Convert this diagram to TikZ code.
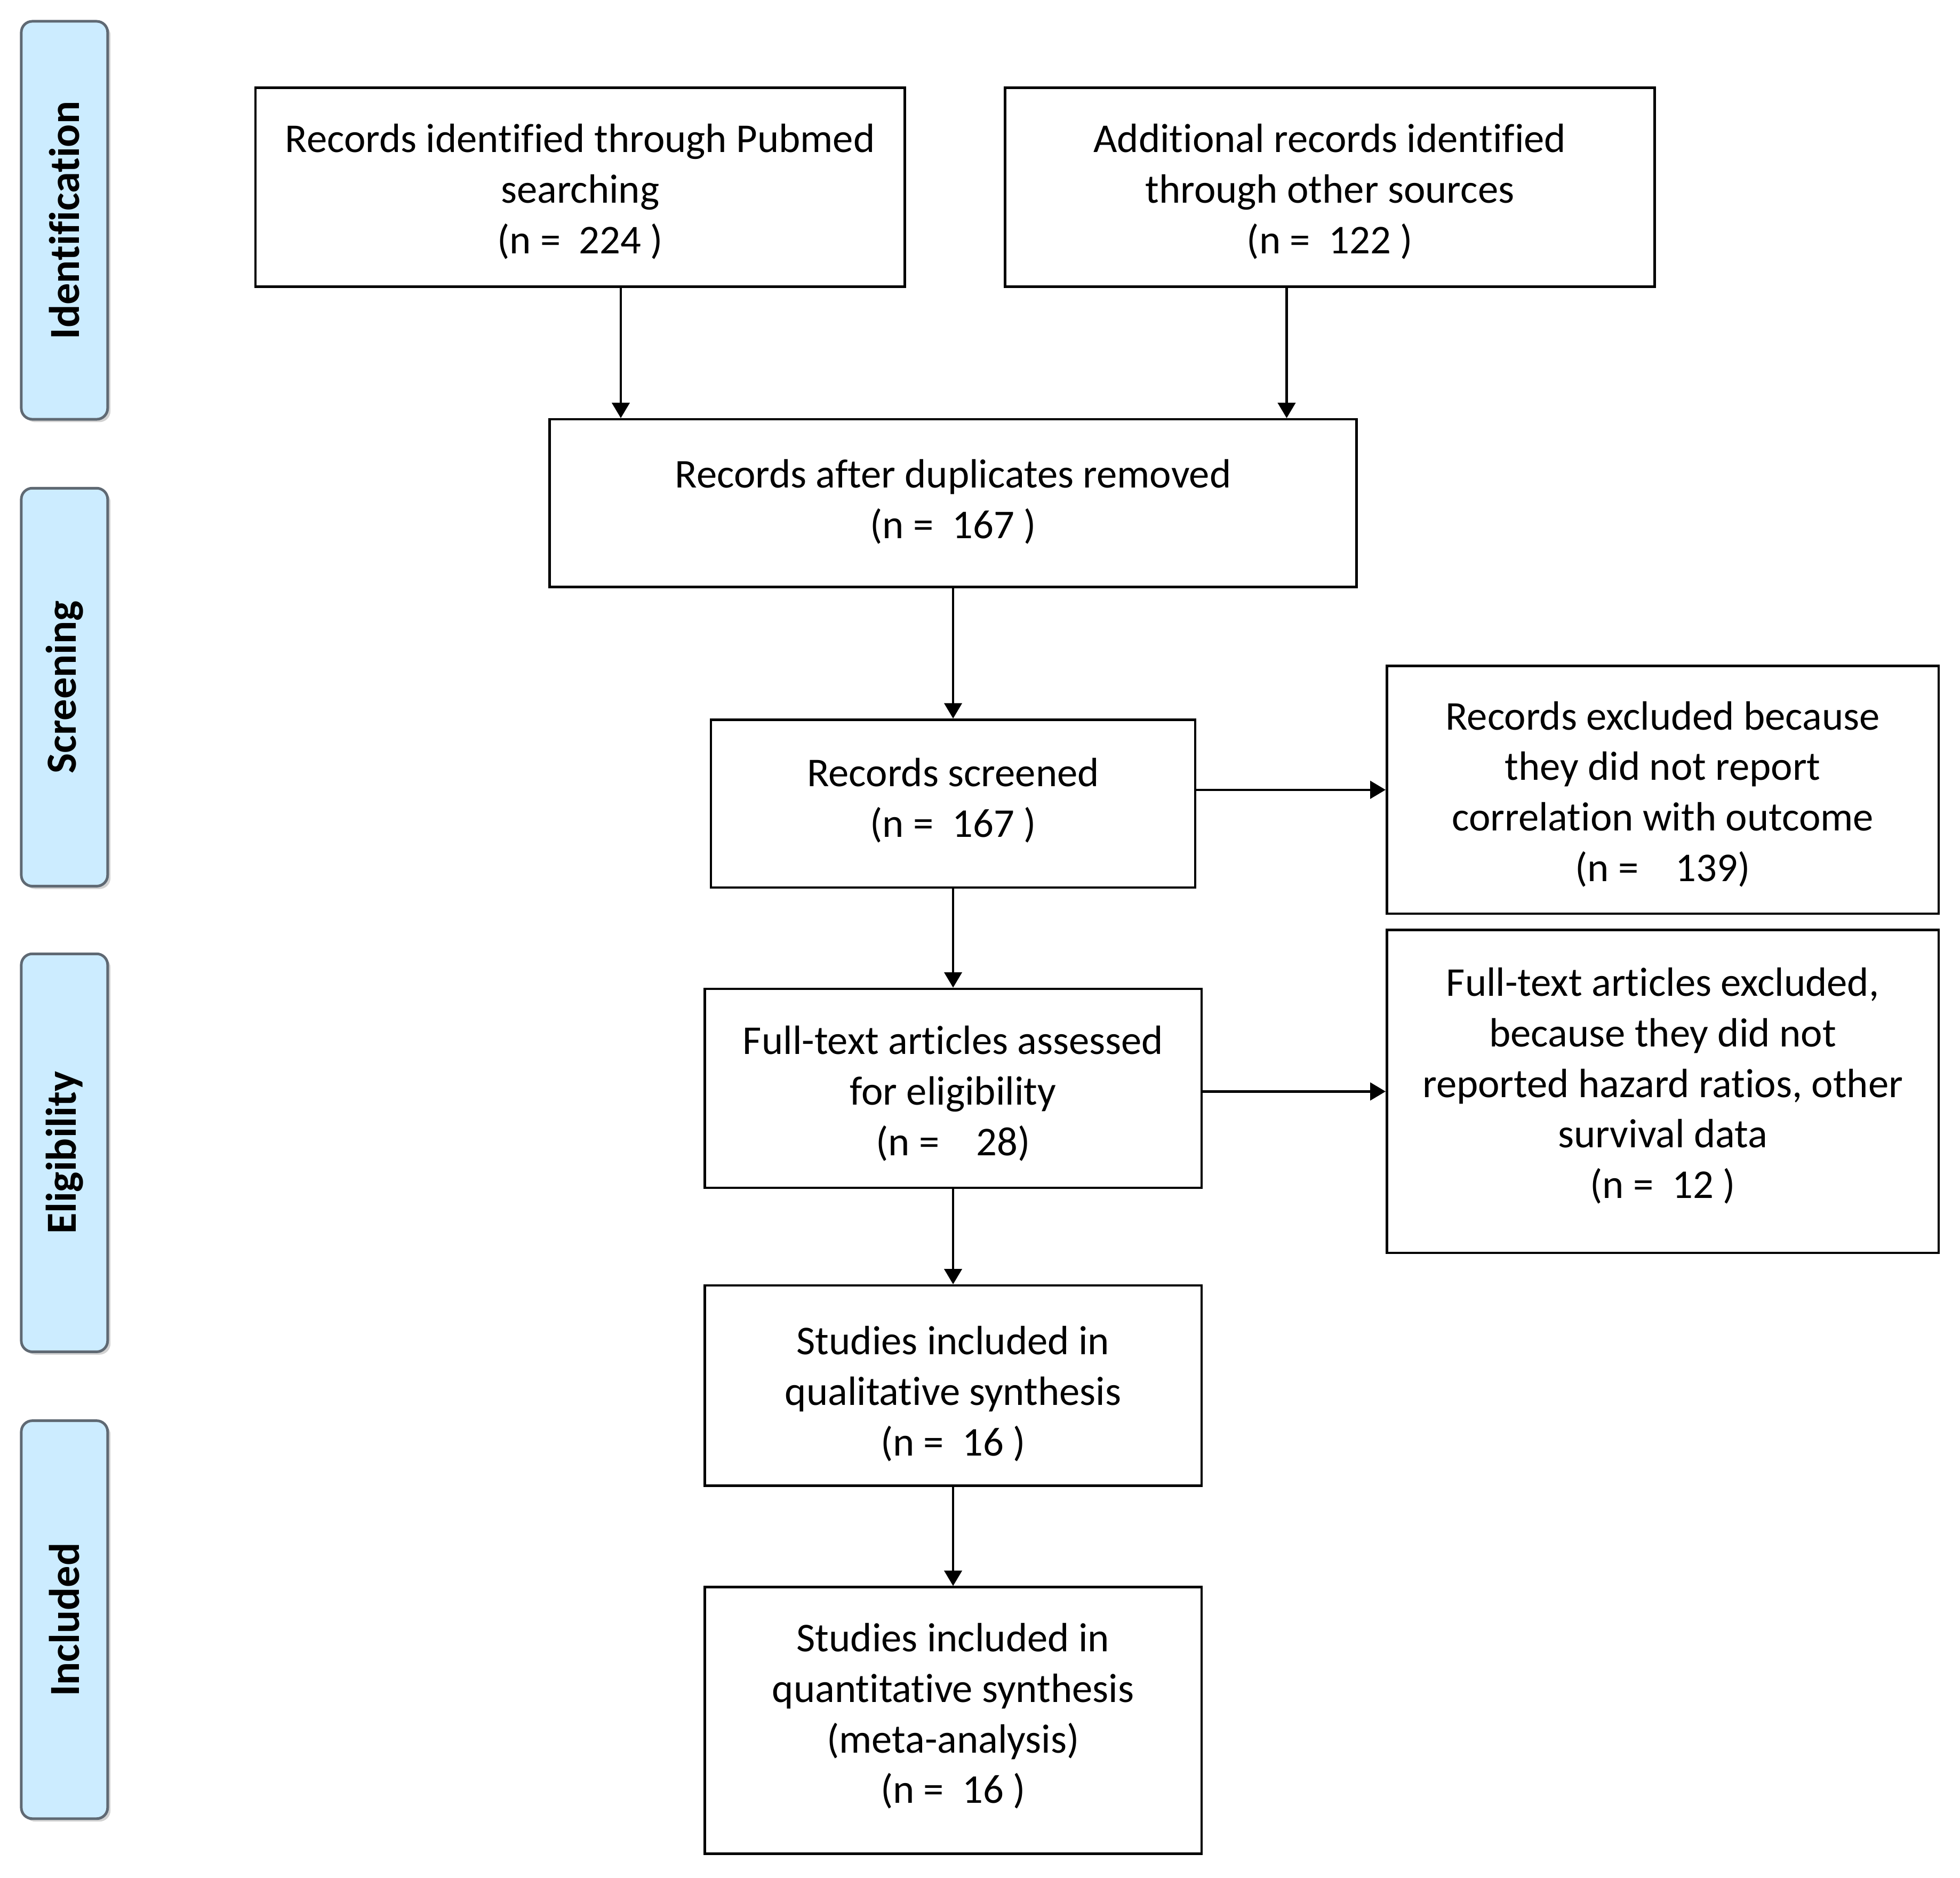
\documentclass[tikz,border=0pt]{standalone}
\usepackage{fontspec}
\setmainfont{Carlito}[Ligatures=NoCommon]
\usetikzlibrary{arrows.meta,shadows}
\definecolor{sideblue}{RGB}{204,236,255}
\definecolor{sideedge}{RGB}{95,105,115}
\begin{document}
\begin{tikzpicture}[x=0.02cm,y=-0.02cm,
  box/.style={draw=black,line width=1.1pt,inner sep=0pt},
  btext/.style={align=center,inner sep=0pt,font=\fontsize{18.6}{23}\selectfont},
  sidebox/.style={draw=sideedge,fill=sideblue,line width=1.2pt,rounded corners=5pt,
    minimum width=1.38cm,minimum height=6.36cm,inner sep=0pt,
    drop shadow={shadow xshift=1.3pt,shadow yshift=-1.3pt,fill=gray!35,opacity=1}},
  sidetext/.style={rotate=90,font=\fontsize{19.5}{22}\selectfont\bfseries},
  arr/.style={line width=1.1pt,-{Triangle[length=7pt,width=8pt]}}]
\useasboundingbox (0,0) rectangle (1566,1500);

% side labels
\node[sidebox] (s1) at (51.5,176) {};
\node[sidetext] (t1) at (s1.center) {Identification};
\node[sidebox] (s2) at (51.5,549) {};
\node[sidetext] (t2) at (s2.center) {Screening};
\node[sidebox] (s3) at (51.5,921) {};
\node[sidetext] (t3) at (s3.center) {Eligibility};
\node[sidebox] (s4) at (51.5,1294) {};
\node[sidetext] (t4) at (s4.center) {Included};

% boxes
\node[box,minimum width=10.38cm,minimum height=3.18cm] (A) at (463.5,149.5) {};
\node[btext] (Atx) at (463.5,153) {Records identified through Pubmed\\searching\\(n =\ \ 224 )};
\node[box,minimum width=10.38cm,minimum height=3.18cm] (B) at (1062.5,149.5) {};
\node[btext] (Btx) at (1062.5,153) {Additional records identified\\through other sources\\(n =\ \ 122 )};
\node[box,minimum width=12.9cm,minimum height=2.68cm] (C) at (761.5,402) {};
\node[btext] (Ctx) at (761.5,401) {Records after duplicates removed\\(n =\ \ 167 )};
\node[box,minimum width=7.74cm,minimum height=2.68cm] (D) at (761.5,642) {};
\node[btext] (Dtx) at (761.5,639.5) {Records screened\\(n =\ \ 167 )};
\node[box,minimum width=8.82cm,minimum height=3.96cm] (E) at (1328.5,631) {};
\node[btext] (Etx) at (1328.5,634.5) {Records excluded because\\they did not report\\correlation with outcome\\(n =\ \ \ \ 139)};
\node[box,minimum width=7.94cm,minimum height=3.18cm] (F) at (761.5,869.5) {};
\node[btext] (Ftx) at (761.5,873.5) {Full-text articles assessed\\for eligibility\\(n =\ \ \ \ 28)};
\node[box,minimum width=8.82cm,minimum height=5.16cm] (G) at (1328.5,872) {};
\node[btext] (Gtx) at (1328.5,867.5) {Full-text articles excluded,\\because they did not\\reported hazard ratios, other\\survival data\\(n =\ \ 12 )};
\node[box,minimum width=7.94cm,minimum height=3.2cm] (H) at (761.5,1107) {};
\node[btext] (Htx) at (761.5,1113.5) {Studies included in\\qualitative synthesis\\(n =\ \ 16 )};
\node[box,minimum width=7.94cm,minimum height=4.26cm] (I) at (761.5,1374.5) {};
\node[btext] (Itx) at (761.5,1371) {Studies included in\\quantitative synthesis\\(meta-analysis)\\(n =\ \ 16 )};

% connectors
\coordinate (xa) at (496,0);
\coordinate (xb) at (1028,0);
\draw[arr] (A.south -| xa) -- (C.north -| xa);
\draw[arr] (B.south -| xb) -- (C.north -| xb);
\draw[arr] (C.south) -- (D.north);
\draw[arr] (E.west -| D.east) -- (E.west);
\draw[arr] (D.south) -- (F.north);
\draw[arr] (G.west -| F.east) -- (G.west);
\draw[arr] (F.south) -- (H.north);
\draw[arr] (H.south) -- (I.north);
\end{tikzpicture}
\end{document}
